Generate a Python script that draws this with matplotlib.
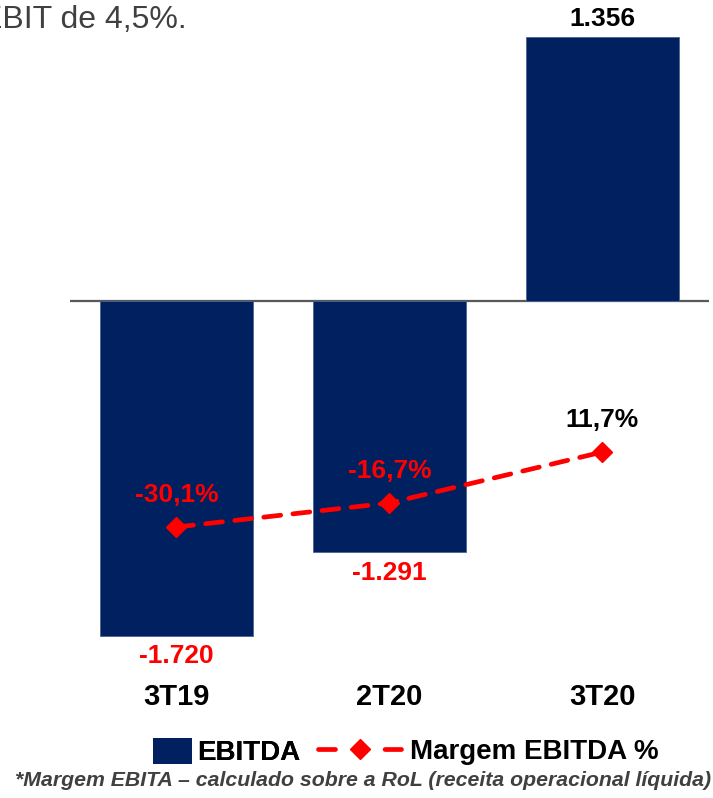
import matplotlib.pyplot as plt
from matplotlib.patches import Patch
from matplotlib.lines import Line2D

plt.rcParams['font.family'] = ['Liberation Sans', 'DejaVu Sans']

quarters = ['3T19', '2T20', '3T20']
ebitda = [-1720, -1291, 1356]
margin = [-30.1, -16.7, 11.7]

NAVY = '#002060'
RED = '#FF0000'

W, H = 713, 798
fig = plt.figure(figsize=(W / 100, H / 100), dpi=100)

# axes spans pixel rows 30..640, columns 70..709
ax = fig.add_axes([70 / W, (H - 640) / H, 639 / W, 610 / H])
ax2 = ax.twinx()

x = list(range(len(quarters)))
ax.bar(x, ebitda, width=0.714, color=NAVY, edgecolor='#4A6491', linewidth=0.6, zorder=2)
ax.axhline(0, color='#595959', lw=1.6, zorder=1)
ax.set_xlim(-0.5, 2.5)
ax.set_ylim(-1741, 1392)

ax2.plot(x, margin, color=RED, lw=3.4, dashes=(3.6, 2.6), dash_capstyle='round',
         marker='D', markersize=10, markeredgecolor=RED, zorder=3)
ax2.set_ylim(-93.05, 246.8)

for a in (ax, ax2):
    for s in a.spines.values():
        s.set_visible(False)
    a.set_yticks([])
    a.tick_params(length=0)

ax.set_xticks(x)
ax.set_xticklabels(quarters, fontsize=21, fontweight='bold')
ax.tick_params(axis='x', pad=31)

def fmt_int(v):
    return f"{v:,}".replace(',', '.')

def fmt_pct(v):
    return f"{v:.1f}%".replace('.', ',')

for xi, v in zip(x, ebitda):
    if v >= 0:
        ax.annotate(fmt_int(v), (xi, v), xytext=(0, 4), textcoords='offset points',
                    ha='center', va='bottom', fontsize=19, fontweight='bold', color='black')
    else:
        ax.annotate(fmt_int(v), (xi, v), xytext=(0, -6), textcoords='offset points',
                    ha='center', va='top', fontsize=19, fontweight='bold', color=RED)

for xi, v in zip(x, margin):
    ax2.annotate(fmt_pct(v), (xi, v), xytext=(0, 23), textcoords='offset points',
                 ha='center', va='center', fontsize=19, fontweight='bold',
                 color=RED if v < 0 else 'black', zorder=4)

# legend: two pieces so the line sample can be longer than the square
leg1 = fig.legend(handles=[Patch(facecolor=NAVY)], labels=['EBITDA'],
                  loc='center left', bbox_to_anchor=(153 / W, 1 - 752 / H),
                  frameon=False, prop={'weight': 'bold', 'size': 20},
                  handlelength=1.4, handleheight=1.1, handletextpad=0.2,
                  borderpad=0, borderaxespad=0)
line_handle = Line2D([], [], color=RED, lw=3.4, dashes=(3.6, 10.5), dash_capstyle='round',
                     marker='D', markersize=10, markeredgecolor=RED)
leg2 = fig.legend(handles=[line_handle], labels=['Margem EBITDA %'],
                  loc='center left', bbox_to_anchor=(318 / W, 1 - 752 / H),
                  frameon=False, prop={'weight': 'bold', 'size': 20},
                  handlelength=3.0, handletextpad=0.3, numpoints=1,
                  borderpad=0, borderaxespad=0)
fig.add_artist(leg1)

fig.text(187 / W, 1 - 20 / H, 'EBIT de 4,5%.', ha='right', va='center',
         fontsize=23, color='#404040')

fig.text(711 / W, 1 - 780 / H,
         '*Margem EBITA \u2013 calculado sobre a RoL (receita operacional l\u00edquida)',
         ha='right', va='center', fontsize=15.3, fontweight='bold', fontstyle='italic',
         color='#404040')

fig.savefig('out.png', dpi=100)
